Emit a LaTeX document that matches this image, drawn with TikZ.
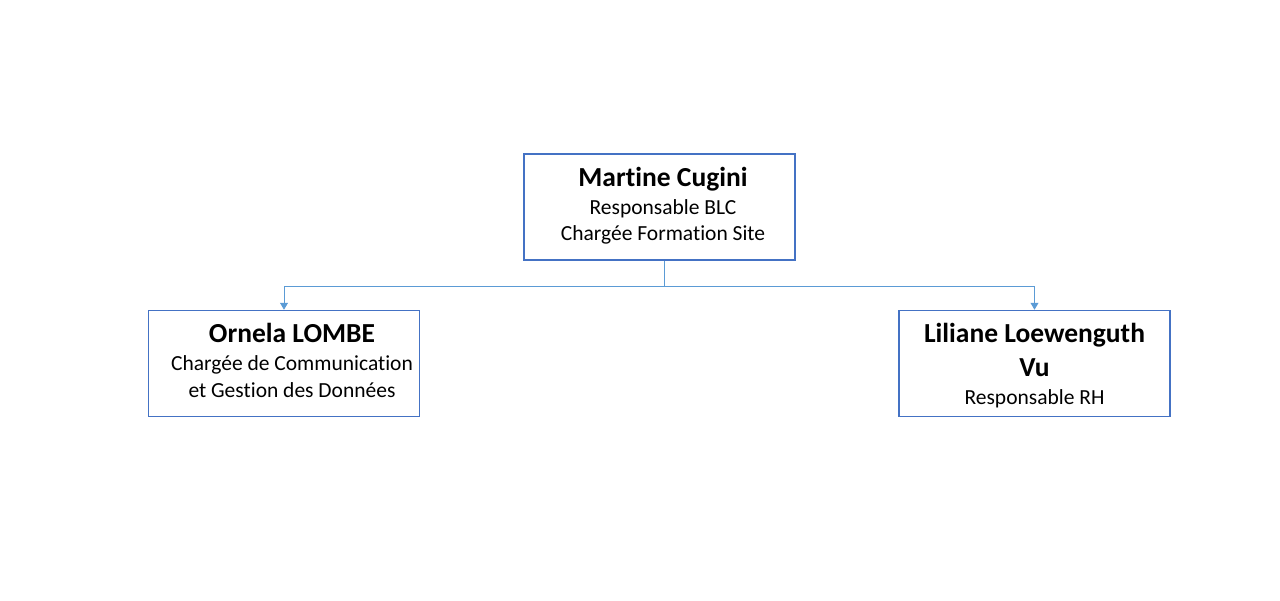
\documentclass[tikz,border=0pt]{standalone}
\usepackage{fontspec}
\setmainfont{Carlito}[Ligatures=NoCommon]
\usetikzlibrary{arrows.meta}
\definecolor{boxblue}{HTML}{4472C4}
\definecolor{linkblue}{HTML}{5B9BD5}
\newcommand{\personname}[1]{{\fontsize{27.5}{30}\selectfont\bfseries #1}}
\begin{document}
\begin{tikzpicture}[x=1pt,y=-1pt,
  personbox/.style={draw=boxblue,line width=1.5pt,fill=white,minimum width=271pt,minimum height=106pt,inner sep=0pt},
  persontext/.style={align=center,inner sep=0pt,font=\fontsize{21.5}{26}\selectfont},
  link/.style={draw=linkblue,line width=0.9pt,-{Triangle[length=7pt,width=8pt]}}]
% Page frame
\useasboundingbox (0,0) rectangle (1280,600);

% Drawing the boxes
\node [personbox,label={[persontext,xshift=3.5pt,yshift=1.5pt]center:{\personname{Martine Cugini}\\[2pt] Responsable BLC\\[0pt] Chargée Formation Site}}] (cugini) at (659.5,207) {};
\node [personbox,label={[persontext,xshift=8pt,yshift=3pt]center:{\personname{Ornela LOMBE}\\[2pt] Chargée de Communication\\[1pt] et Gestion des Données}}] (lombe) at (284,363.5) {};
\node [personbox,label={[persontext,yshift=-2.5pt]center:{\personname{Liliane Loewenguth}\\[8pt] \personname{Vu}\\[2pt] Responsable RH}}] (loewenguth) at (1034.5,363.5) {};

% Drawing the links
\draw [link] ([xshift=4.5pt]cugini.south) -- ++(0,26) -| (lombe.north);
\draw [link] ([xshift=4.5pt]cugini.south) -- ++(0,26) -| (loewenguth.north);
\end{tikzpicture}
\end{document}
